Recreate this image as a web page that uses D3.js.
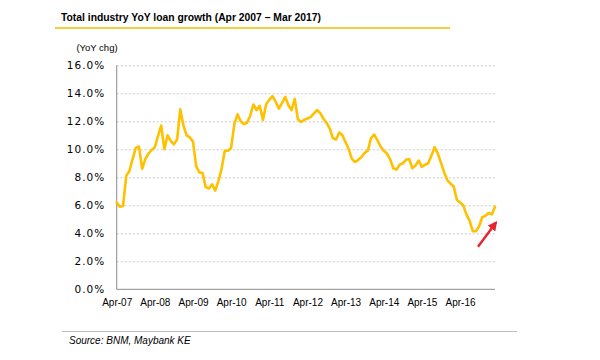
<!DOCTYPE html>
<html>
<head>
<meta charset="utf-8">
<script src="https://cdn.jsdelivr.net/npm/d3@7"></script>
<style>
  html, body { margin: 0; padding: 0; background: #fff; }
  svg { display: block; }
</style>
</head>
<body>
<svg id="chart" width="600" height="360"></svg>
<script>
// ---- Data ----
const titleText = "Total industry YoY loan growth (Apr 2007 \u2013 Mar 2017)";
const unitLabel = "(YoY chg)";
const sourceText = "Source: BNM, Maybank KE";

// Monthly categories Apr-07 .. Mar-17
const categories = d3.timeMonth.range(new Date(2007, 3, 1), new Date(2017, 3, 1)).map(d3.timeFormat("%b-%y"));

const tickLabels = ["Apr-07","Apr-08","Apr-09","Apr-10","Apr-11","Apr-12","Apr-13","Apr-14","Apr-15","Apr-16"];
const yTicks = [0, 2, 4, 6, 8, 10, 12, 14, 16];

// YoY loan growth (%)
const growth = [
  6.2, 5.9, 5.95, 8.1, 8.45, 9.3, 10.1, 10.2, 8.6, 9.3, 9.7, 9.95,
  10.15, 10.95, 11.7, 10.0, 11.0, 10.6, 10.35, 10.7, 12.85, 11.7, 11.0, 10.85,
  10.55, 8.8, 8.35, 8.3, 7.3, 7.2, 7.5, 7.05, 7.75, 8.6, 9.9, 9.9,
  10.1, 11.8, 12.5, 12.0, 11.8, 11.9, 12.4, 13.2, 12.8, 13.1, 12.1, 13.2,
  13.55, 13.8, 13.4, 12.9, 13.3, 13.75, 13.15, 12.8, 13.6, 12.15, 11.95, 12.1,
  12.2, 12.3, 12.55, 12.8, 12.6, 12.2, 11.9, 11.5, 10.8, 10.7, 11.2, 11.0,
  10.5, 10.0, 9.3, 9.1, 9.25, 9.45, 9.75, 9.9, 10.8, 11.05, 10.65, 10.2,
  9.9, 9.7, 9.3, 8.65, 8.55, 8.9, 9.0, 9.25, 9.3, 8.65, 8.85, 9.2,
  8.75, 8.9, 9.0, 9.55, 10.15, 9.7, 9.05, 8.35, 7.8, 7.55, 7.35, 6.4,
  6.2, 6.0, 5.35, 4.9, 4.15, 4.15, 4.5, 5.15, 5.25, 5.45, 5.35, 5.9
];

// ---- Layout ----
const svg = d3.select("#chart");
const plotL = 116.7, plotR = 495, plotT = 65.3, plotB = 289.3;

const x = d3.scalePoint().domain(categories).range([plotL, plotR]);
const y = d3.scaleLinear().domain([0, 16]).range([plotB, plotT]);

const font = "'Liberation Sans', Arial, sans-serif";
const fontWide = "'DejaVu Sans', Verdana, sans-serif";

// Title
svg.append("text")
  .attr("x", 61).attr("y", 20.7)
  .attr("font-family", font).attr("font-size", 11).attr("font-weight", "bold")
  .attr("fill", "#000")
  .attr("textLength", 260).attr("lengthAdjust", "spacingAndGlyphs")
  .text(titleText);

// Title underline
svg.append("line")
  .attr("x1", 55).attr("x2", 450).attr("y1", 28).attr("y2", 28)
  .attr("stroke", "#F3CF3D").attr("stroke-width", 2);

// Unit label
svg.append("text")
  .attr("x", 97).attr("y", 48).attr("dy", "0.35em")
  .attr("text-anchor", "middle")
  .attr("font-family", font).attr("font-size", 9.5).attr("fill", "#000")
  .text(unitLabel);

// Gridlines
const grid = svg.append("g")
  .attr("transform", `translate(${plotL},0)`)
  .call(d3.axisLeft(y).tickValues(yTicks.filter(d => d > 0)).tickSize(-(plotR - plotL)).tickFormat(""));
grid.select(".domain").remove();
grid.selectAll("line").attr("stroke", "#c8c8c8").attr("stroke-width", 1).attr("stroke-dasharray", "2,2");

// Y axis labels
const yAxis = svg.append("g")
  .attr("transform", `translate(${plotL},0)`)
  .call(d3.axisLeft(y).tickValues(yTicks).tickFormat(d => d.toFixed(1) + "%").tickSize(0).tickPadding(11.5));
yAxis.select(".domain").remove();
yAxis.selectAll("text")
  .attr("font-family", fontWide).attr("font-size", 10.5).attr("fill", "#000")
  .attr("letter-spacing", 1);

// X axis labels
const xAxis = svg.append("g")
  .attr("transform", `translate(0,${plotB})`)
  .call(d3.axisBottom(x).tickValues(tickLabels).tickSize(0).tickPadding(10));
xAxis.select(".domain").remove();
xAxis.selectAll("text")
  .attr("font-family", font).attr("font-size", 10).attr("fill", "#000");

// Axis lines
svg.append("line")
  .attr("x1", plotL).attr("x2", plotL).attr("y1", plotT).attr("y2", plotB)
  .attr("stroke", "#8c8c8c").attr("stroke-width", 1);
svg.append("line")
  .attr("x1", plotL).attr("x2", plotR).attr("y1", plotB).attr("y2", plotB)
  .attr("stroke", "#8c8c8c").attr("stroke-width", 1);

// Series line
const line = d3.line()
  .x((d, i) => x(categories[i]))
  .y(d => y(d));
svg.append("path")
  .datum(growth)
  .attr("d", line)
  .attr("fill", "none")
  .attr("stroke", "#FFC000")
  .attr("stroke-width", 2.6)
  .attr("stroke-linejoin", "round")
  .attr("stroke-linecap", "round");

// Red arrow
const defs = svg.append("defs");
defs.append("marker")
  .attr("id", "arrowhead")
  .attr("viewBox", "0 0 10 10")
  .attr("refX", 8).attr("refY", 5)
  .attr("markerWidth", 4).attr("markerHeight", 4)
  .attr("orient", "auto")
  .append("path")
  .attr("d", "M0,0 L10,5 L0,10 Z")
  .attr("fill", "#E3262B");
svg.append("line")
  .attr("x1", 478).attr("y1", 246.7).attr("x2", 496).attr("y2", 222.5)
  .attr("stroke", "#E3262B").attr("stroke-width", 2.4)
  .attr("marker-end", "url(#arrowhead)");

// Source separator line
svg.append("line")
  .attr("x1", 62).attr("x2", 517).attr("y1", 331.5).attr("y2", 331.5)
  .attr("stroke", "#bdbdbd").attr("stroke-width", 1.2);

// Source text
svg.append("text")
  .attr("x", 69).attr("y", 344)
  .attr("font-family", font).attr("font-size", 10).attr("font-style", "italic")
  .attr("fill", "#000")
  .text(sourceText);
</script>
</body>
</html>
